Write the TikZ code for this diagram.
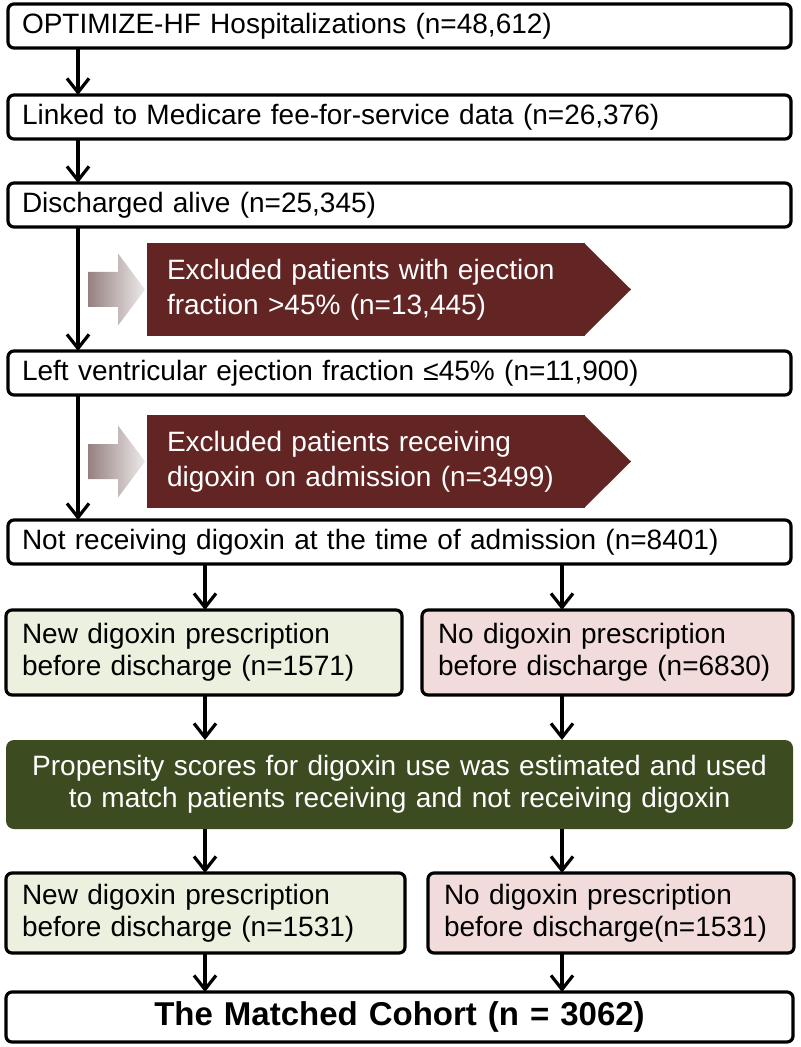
\documentclass[tikz,border=0pt]{standalone}
\usepackage{fontspec}
\setmainfont{Liberation Sans}
\usetikzlibrary{positioning,calc,arrows.meta}

\definecolor{exclred}{RGB}{99,37,36}
\definecolor{matchgreen}{RGB}{60,75,32}
\definecolor{newgreen}{RGB}{235,241,222}
\definecolor{nopink}{RGB}{242,220,219}
\definecolor{arrowdark}{RGB}{150,128,128}
\definecolor{arrowlight}{RGB}{238,234,234}

\begin{document}
\begin{tikzpicture}[
	stepbox/.style={rectangle, draw=black, line width=1.6pt, rounded corners=3pt, outer sep=0pt, inner xsep=7pt, inner ysep=0pt, minimum height=22pt, text width=377.5pt, align=left, font=\fontsize{14pt}{16pt}\selectfont},
	newbox/.style={stepbox, fill=newgreen, inner xsep=8pt, minimum height=42.5pt},
	nobox/.style={stepbox, fill=nopink, inner xsep=8pt, minimum height=42.5pt},
	exclbox/.style={rectangle, fill=exclred, text=white, outer sep=0pt, inner xsep=10pt, inner ysep=0pt, minimum height=46.5pt, text width=199pt, align=left, font=\fontsize{14pt}{17.5pt}\selectfont},
	matchbox/.style={rectangle, fill=matchgreen, text=white, rounded corners=4pt, outer sep=0pt, inner sep=0pt, minimum height=44.5pt, text width=393.5pt, align=center, font=\fontsize{14pt}{16pt}\selectfont},
	flow/.style={line width=1.6pt, -{Straight Barb[length=7pt,width=11pt]}}
]
\useasboundingbox (0,0) rectangle (400pt,-523.5pt);
\coordinate (spine) at (39pt,0);
\coordinate (leftcol) at (102.5pt,0);
\coordinate (rightcol) at (281pt,0);

% main column
\node[stepbox, anchor=north west] (hosp) at (4pt,-2pt) {OPTIMIZE-HF Hospitalizations (n=48,612)};
\node[stepbox] (linked) [below=23.5pt of hosp] {Linked to Medicare fee-for-service data (n=26,376)};
\node[stepbox] (alive) [below=22pt of linked] {Discharged alive (n=25,345)};
\node[stepbox] (lvef) [below=62pt of alive] {Left ventricular ejection fraction ≤45\% (n=11,900)};
\node[stepbox] (nodig) [below=62.5pt of lvef] {Not receiving digoxin at the time of admission (n=8401)};

% exclusions
\node[exclbox] (exclef) [below right=8pt and 69.5pt of alive.south west] {Excluded patients with ejection\\fraction >45\% (n=13,445)};
\node[exclbox] (excldig) [below right=10pt and 69.5pt of lvef.south west] {Excluded patients receiving\\digoxin on admission (n=3499)};
\fill[exclred] ($(exclef.north east)+(-0.5pt,0)$) -- ($(exclef.east)+(23pt,0)$) -- ($(exclef.south east)+(-0.5pt,0)$) -- cycle;
\fill[exclred] ($(excldig.north east)+(-0.5pt,0)$) -- ($(excldig.east)+(23pt,0)$) -- ($(excldig.south east)+(-0.5pt,0)$) -- cycle;
\shade[left color=arrowdark, right color=arrowlight] ($(exclef.west)+(-29.5pt,-8.75pt)$) -- ++(15pt,0) -- ++(0,-9.25pt) -- ($(exclef.west)+(-1pt,0)$) -- ($(exclef.west)+(-14.5pt,18pt)$) -- ++(0,-9.25pt) -- ++(-15pt,0) -- cycle;
\shade[left color=arrowdark, right color=arrowlight] ($(excldig.west)+(-29.5pt,-8.75pt)$) -- ++(15pt,0) -- ++(0,-9.25pt) -- ($(excldig.west)+(-1pt,0)$) -- ($(excldig.west)+(-14.5pt,18pt)$) -- ++(0,-9.25pt) -- ++(-15pt,0) -- cycle;

% split and matching
\node[newbox, text width=182pt] (newrx) [below right=23pt and -1pt of nodig.south west] {New digoxin prescription\\before discharge (n=1571)};
\node[nobox, text width=169.5pt] (norx) [right=10pt of newrx] {No digoxin prescription\\before discharge (n=6830)};
\node[matchbox] (match) [below right=22.5pt and 0pt of newrx.south west] {Propensity scores for digoxin use was estimated and used\\to match patients receiving and not receiving digoxin};
\node[newbox, text width=183.5pt, minimum height=40pt] (newrxm) [below right=22pt and 0pt of match.south west] {New digoxin prescription\\before discharge (n=1531)};
\node[nobox, text width=167pt, minimum height=40pt] (norxm) [right=11.5pt of newrxm] {No digoxin prescription\\before discharge(n=1531)};
\node[stepbox, text width=379.5pt, minimum height=25pt, align=center, font=\fontsize{16.5pt}{19pt}\selectfont\bfseries] (cohort) [below right=19.5pt and 0pt of newrxm.south west] {The Matched Cohort (n = 3062)};

\draw[flow] (hosp.south -| spine) -- (linked.north -| spine);
\draw[flow] (linked.south -| spine) -- (alive.north -| spine);
\draw[flow] (alive.south -| spine) -- (lvef.north -| spine);
\draw[flow] (lvef.south -| spine) -- (nodig.north -| spine);
\draw[flow] (nodig.south -| leftcol) -- (newrx.north -| leftcol);
\draw[flow] (nodig.south -| rightcol) -- (norx.north -| rightcol);
\draw[flow] (newrx.south -| leftcol) -- (match.north -| leftcol);
\draw[flow] (norx.south -| rightcol) -- (match.north -| rightcol);
\draw[flow] (match.south -| leftcol) -- (newrxm.north -| leftcol);
\draw[flow] (match.south -| rightcol) -- (norxm.north -| rightcol);
\draw[flow] (newrxm.south -| leftcol) -- (cohort.north -| leftcol);
\draw[flow] (norxm.south -| rightcol) -- (cohort.north -| rightcol);
\end{tikzpicture}
\end{document}
